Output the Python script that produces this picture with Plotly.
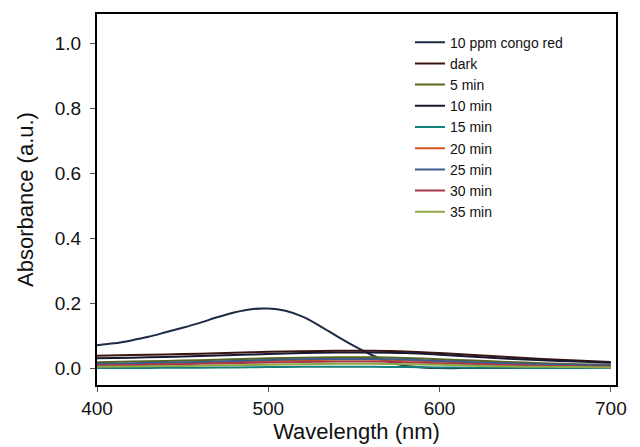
import plotly.graph_objects as go

wavelength = [400, 420, 440, 460, 480, 500, 520, 540, 560, 580, 600, 620, 640, 660, 680, 700]
wavelength_cr = [400, 410, 420, 430, 440, 450, 460, 470, 480, 490, 500, 510, 520, 530, 540,
                 550, 560, 570, 580, 590, 600, 620, 640, 660, 680, 700]

series_names = ["10 ppm congo red", "dark", "5 min", "10 min", "15 min",
                "20 min", "25 min", "30 min", "35 min"]

congo_red = [0.072, 0.078, 0.087, 0.098, 0.112, 0.126, 0.141, 0.158, 0.173, 0.183, 0.185,
             0.178, 0.160, 0.132, 0.100, 0.070, 0.043, 0.022, 0.009, 0.004, 0.002,
             0.002, 0.002, 0.002, 0.002, 0.002]
dark      = [0.040, 0.042, 0.044, 0.046, 0.049, 0.052, 0.054, 0.055, 0.055, 0.053, 0.048, 0.042, 0.036, 0.030, 0.025, 0.021]
min5      = [0.020, 0.022, 0.024, 0.026, 0.029, 0.032, 0.034, 0.035, 0.035, 0.033, 0.029, 0.025, 0.021, 0.017, 0.014, 0.012]
min10     = [0.032, 0.034, 0.036, 0.039, 0.042, 0.045, 0.048, 0.050, 0.050, 0.048, 0.043, 0.037, 0.031, 0.026, 0.022, 0.018]
min15     = [0.002, 0.002, 0.003, 0.003, 0.004, 0.005, 0.006, 0.006, 0.006, 0.005, 0.004, 0.003, 0.003, 0.002, 0.002, 0.002]
min20     = [0.012, 0.014, 0.016, 0.018, 0.021, 0.024, 0.026, 0.028, 0.028, 0.026, 0.022, 0.018, 0.015, 0.012, 0.010, 0.008]
min25     = [0.015, 0.017, 0.019, 0.021, 0.024, 0.027, 0.029, 0.030, 0.030, 0.028, 0.024, 0.020, 0.017, 0.014, 0.012, 0.010]
min30     = [0.010, 0.011, 0.013, 0.015, 0.017, 0.019, 0.021, 0.022, 0.022, 0.020, 0.017, 0.014, 0.011, 0.009, 0.007, 0.006]
min35     = [0.006, 0.007, 0.008, 0.009, 0.011, 0.012, 0.014, 0.015, 0.015, 0.014, 0.012, 0.009, 0.007, 0.006, 0.005, 0.004]

all_series = [congo_red, dark, min5, min10, min15, min20, min25, min30, min35]
all_x = [wavelength_cr] + [wavelength] * 8
colors = ["#1c2b44", "#3a1410", "#55671c", "#1a1830", "#15807a",
          "#d0561c", "#3c5a8c", "#a83848", "#8ea846"]

fig = go.Figure()
for name, xs, ys, c in zip(series_names, all_x, all_series, colors):
    fig.add_trace(go.Scatter(x=xs, y=ys, mode="lines", name=name,
                             line=dict(color=c, width=2, shape="spline", smoothing=0.8)))

font_family = "Liberation Sans, Arial, sans-serif"
fig.update_layout(
    width=632, height=439,
    margin=dict(l=89, r=24, t=6, b=62),
    paper_bgcolor="white", plot_bgcolor="white",
    font=dict(family=font_family, color="#111111"),
    showlegend=True,
    legend=dict(x=0.603, y=0.966, xanchor="left", yanchor="top",
                bgcolor="rgba(0,0,0,0)", font=dict(size=14, family=font_family),
                itemwidth=30, tracegroupgap=0),
    xaxis=dict(range=[400, 703], tickvals=[400, 500, 600, 700],
               showline=True, linecolor="black", linewidth=2, mirror=True,
               ticks="outside", ticklen=5, tickcolor="#555555",
               showgrid=False, zeroline=False, automargin=False,
               tickfont=dict(size=19),
               title=dict(text="Wavelength (nm)", font=dict(size=22), standoff=1)),
    yaxis=dict(range=[-0.05, 1.09], tickvals=[0.0, 0.2, 0.4, 0.6, 0.8, 1.0],
               tickformat=".1f",
               showline=True, linecolor="black", linewidth=2, mirror=True,
               ticks="outside", ticklen=5, tickcolor="#555555",
               showgrid=False, zeroline=False, automargin=False,
               ticklabelstandoff=5,
               tickfont=dict(size=19),
               title=dict(text="Absorbance (a.u.)", font=dict(size=22), standoff=15)),
)

fig.write_html("out.html")
